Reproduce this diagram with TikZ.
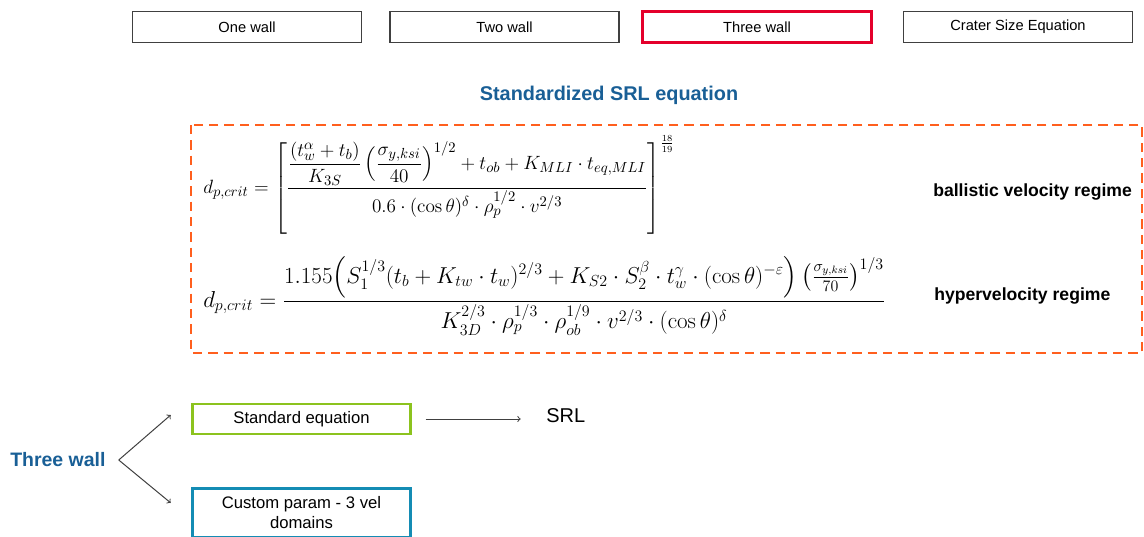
\documentclass[tikz,border=0pt]{standalone}
\usepackage{amsmath}
\usepackage[no-math]{fontspec}
\setmainfont{Liberation Sans}
\usetikzlibrary{positioning}
\usetikzlibrary{calc}
\usetikzlibrary{arrows}
\definecolor{headblue}{RGB}{25,95,150}
\definecolor{tabgray}{RGB}{64,64,64}
\definecolor{tabred}{RGB}{228,0,43}
\definecolor{dashorange}{RGB}{255,95,30}
\definecolor{stdgreen}{RGB}{140,195,30}
\definecolor{custblue}{RGB}{20,140,180}
\tikzset{x=0.75pt, y=-0.75pt,
tab/.style={ % Sets the properties for the tabs at the top
draw=tabgray,
line width=1.1pt,
minimum width=172pt,
minimum height=23pt,
inner sep=0pt,
font=\fontsize{11}{13}\selectfont},
activetab/.style={tab, draw=tabred, line width=2.2pt},
branch/.style={ % Boxes of the lower tree
line width=2.2pt,
minimum width=164pt,
inner sep=1pt,
align=center,
font=\fontsize{12.5}{15}\selectfont},
eq/.style={anchor=west, inner sep=0pt},
regime/.style={anchor=west, inner sep=0pt, font=\bfseries\fontsize{13.2}{15}\selectfont},
link/.style={draw=tabgray, ->, line width=0.75pt}}

\begin{document}
\begin{tikzpicture}
\useasboundingbox (0,0) rectangle (1144,536);
\node[tab] (one) at (247,27) {One wall};
\node[tab] (two) at (504.5,27) {Two wall};
\node[activetab] (three) at (757,27) {Three wall};
\node[tab] (crater) at (1018,27) {Crater Size Equation};
\node[text=headblue, font=\bfseries\fontsize{14.9}{17}\selectfont] (title) at (609,95) {Standardized SRL equation};
\draw[dashorange, line width=1.6pt, dash pattern=on 7pt off 4.5pt] (191,125) rectangle (1142,353);
\node[eq, font=\fontsize{15}{18}\selectfont] (ballistic) at (203,185) {$\displaystyle d_{p,crit}=\left[\frac{\dfrac{(t_w^{\alpha}+t_b)}{K_{3S}}\left(\dfrac{\sigma_{y,ksi}}{40}\right)^{1/2}+t_{ob}+K_{MLI}\cdot t_{eq,MLI}}{0.6\cdot(\cos\theta)^{\delta}\cdot\rho_p^{1/2}\cdot v^{2/3}}\right]^{\frac{18}{19}}$};
\node[regime] (ballabel) at (933,192) {ballistic velocity regime};
\node[eq, font=\fontsize{16.5}{19}\selectfont] (hyper) at (203,296) {$\displaystyle d_{p,crit}=\frac{1.155\Bigl(S_1^{1/3}(t_b+K_{tw}\cdot t_w)^{2/3}+K_{S2}\cdot S_2^{\beta}\cdot t_w^{\gamma}\cdot(\cos\theta)^{-\varepsilon}\Bigr)\left(\frac{\sigma_{y,ksi}}{70}\right)^{1/3}}{K_{3D}^{2/3}\cdot\rho_p^{1/3}\cdot\rho_{ob}^{1/9}\cdot v^{2/3}\cdot(\cos\theta)^{\delta}}$};
\node[regime] (hyplabel) at (934,296) {hypervelocity regime};

\node[text=headblue, font=\bfseries\fontsize{14.6}{17}\selectfont, anchor=west, inner sep=0pt] (wall) at (10,460) {Three wall};
\node[branch, draw=stdgreen, minimum height=22.5pt] (std) at (301.5,419) {Standard equation};
\node[branch, draw=custblue, minimum height=37pt] (custom) at (301.5,513) {Custom param - 3 vel\\domains};
\node[anchor=west, inner sep=0pt, font=\fontsize{15}{17}\selectfont] (srl) at (546,416) {SRL};
\coordinate (fork) at ($(wall.east)+(13,0)$);
\draw[link] (fork) -- ($(std.west)+(-20,-4)$);
\draw[link] (fork) -- ($(custom.north west)+(-20,16)$);
\draw[link, shorten <=10pt, shorten >=19pt] (std.east) -- (std.east -| srl.west);
\end{tikzpicture}
\end{document}
